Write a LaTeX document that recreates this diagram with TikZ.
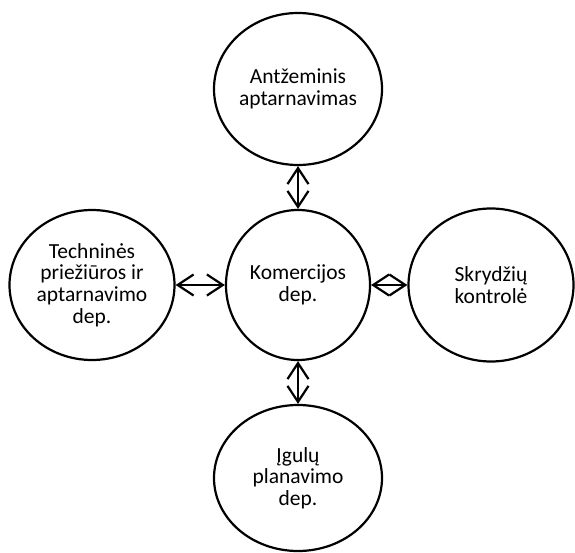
\documentclass[tikz,border=0pt]{standalone}
\usepackage{fontspec}
\setmainfont{Carlito}
\usetikzlibrary{shapes.geometric,arrows.meta}
\newcommand{\deptfont}{\fontsize{21.5}{21.7}\selectfont}
\tikzset{
  dept/.style={draw,ellipse,line width=2.2pt,inner sep=0pt,align=center,font=\deptfont},
  link/.style={line width=2.2pt,{Straight Barb[length=16pt,width=21pt]}-{Straight Barb[length=16pt,width=21pt]}}
}
\begin{document}
\begin{tikzpicture}[x=1pt,y=-1pt]
\useasboundingbox (0,0) rectangle (575,553);
\node[dept,minimum width=168pt,minimum height=152pt] (antz) at (298,89) {Antžeminis\\aptarnavimas};
\node[dept,minimum width=144pt,minimum height=150pt] (kom) at (298,285) {Komercijos\\dep.};
\node[dept,minimum width=165pt,minimum height=150pt] (tech) at (92,285) {Techninės\\priežiūros ir\\aptarnavimo\\dep.};
\node[dept,minimum width=165pt,minimum height=153pt] (skr) at (491,285) {Skrydžių\\kontrolė};
\node[dept,minimum width=168pt,minimum height=146pt] (igul) at (298,478) {Įgulų\\planavimo\\dep.};
\draw[link] (antz.south) -- (kom.north);
\draw[link] (tech.east) -- (kom.west);
\draw[link] (kom.east) -- (skr.west);
\draw[link] (kom.south) -- (igul.north);
\end{tikzpicture}
\end{document}
